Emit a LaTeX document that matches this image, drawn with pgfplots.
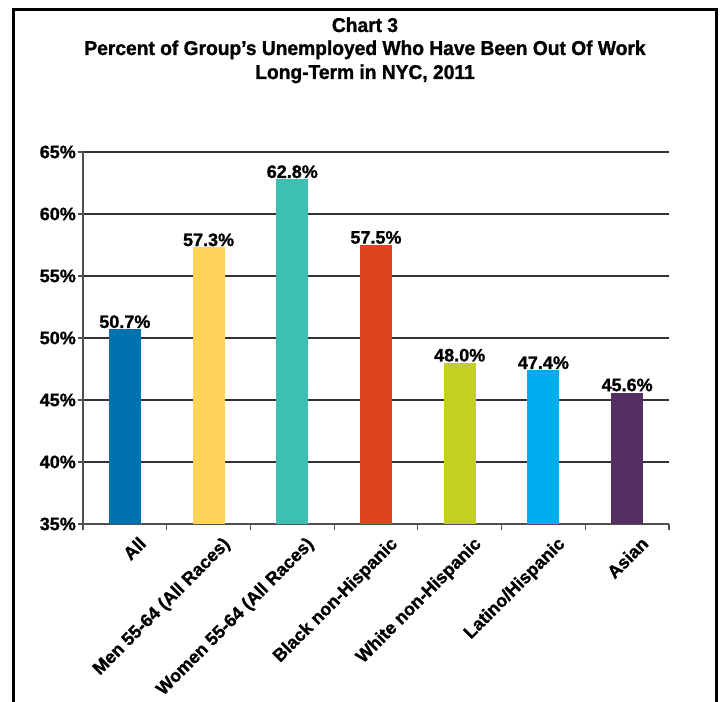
\documentclass[border=0pt]{standalone}
\usepackage{pgfplots}
\pgfplotsset{compat=1.18}
\usepackage{fontspec}
\setmainfont{Liberation Sans}[BoldFeatures={FakeBold=1.2}]
\newfontfamily\titlefont{Liberation Sans}[FakeStretch=0.96, BoldFeatures={FakeBold=1.2}]

\definecolor{cAll}{HTML}{0071AF}
\definecolor{cMen}{HTML}{FFD35A}
\definecolor{cWomen}{HTML}{3DBFB1}
\definecolor{cBlack}{HTML}{DC4520}
\definecolor{cWhite}{HTML}{C3CF21}
\definecolor{cLatino}{HTML}{00AEEF}
\definecolor{cAsian}{HTML}{533061}
\definecolor{axgray}{HTML}{505050}

\begin{document}
\begin{tikzpicture}
\useasboundingbox (0,0) rectangle (720bp,702bp);
\draw[line width=3bp, line join=miter] (13bp,-5bp) -- (13bp,692.5bp) -- (716bp,692.5bp) -- (716bp,-5bp);
\node[anchor=base, font=\titlefont\bfseries\fontsize{20bp}{24bp}\selectfont] at (365bp,670bp) {Chart 3};
\node[anchor=base, font=\titlefont\bfseries\fontsize{20bp}{24bp}\selectfont] at (365bp,647bp) {Percent of Group’s Unemployed Who Have Been Out Of Work};
\node[anchor=base, font=\titlefont\bfseries\fontsize{20bp}{24bp}\selectfont] at (365bp,623bp) {Long-Term in NYC, 2011};
\begin{axis}[
  at={(83bp,178bp)}, anchor=south west,
  scale only axis, width=586bp, height=372bp,
  ymin=35, ymax=65, ytick={35,40,...,65},
  xmin=-0.5, xmax=6.5,
  axis x line*=bottom, axis y line*=left,
  axis line style={axgray, line width=1.3bp, -},
  ymajorgrids, major grid style={black!80, line width=1.1bp},
  tick align=outside, major tick length=5.5bp,
  tick style={axgray, line width=1.2bp},
  /pgf/number format/assume math mode=true,
  yticklabel={\pgfmathprintnumber{\tick}\%},
  ticklabel style={font=\bfseries\fontsize{18bp}{20bp}\selectfont},
  yticklabel style={inner sep=1.5bp},
  xtick={-0.5,0.5,...,6.5}, xticklabels={},
  extra x ticks={0,1,2,3,4,5,6},
  extra x tick labels={All, Men 55-64 (All Races), Women 55-64 (All Races), Black non-Hispanic, White non-Hispanic, Latino/Hispanic, Asian},
  extra x tick style={major tick length=0pt, tick label style={xshift=13bp, yshift=-10bp, rotate=45, anchor=north east, inner sep=1bp}},
  ybar, bar width=32bp,
  nodes near coords={\pgfmathprintnumber[fixed,fixed zerofill,precision=1]{\pgfplotspointmeta}\%},
  every node near coord/.append style={font=\bfseries\fontsize{18bp}{20bp}\selectfont, inner sep=1bp, black},
  clip=false,
]
\addplot[fill=cAll, draw=none, bar shift=0pt] coordinates {(0,50.7)};
\addplot[fill=cMen, draw=none, bar shift=0pt] coordinates {(1,57.3)};
\addplot[fill=cWomen, draw=none, bar shift=0pt] coordinates {(2,62.8)};
\addplot[fill=cBlack, draw=none, bar shift=0pt] coordinates {(3,57.5)};
\addplot[fill=cWhite, draw=none, bar shift=0pt] coordinates {(4,48.0)};
\addplot[fill=cLatino, draw=none, bar shift=0pt] coordinates {(5,47.4)};
\addplot[fill=cAsian, draw=none, bar shift=0pt] coordinates {(6,45.6)};
\end{axis}
\end{tikzpicture}
\end{document}
